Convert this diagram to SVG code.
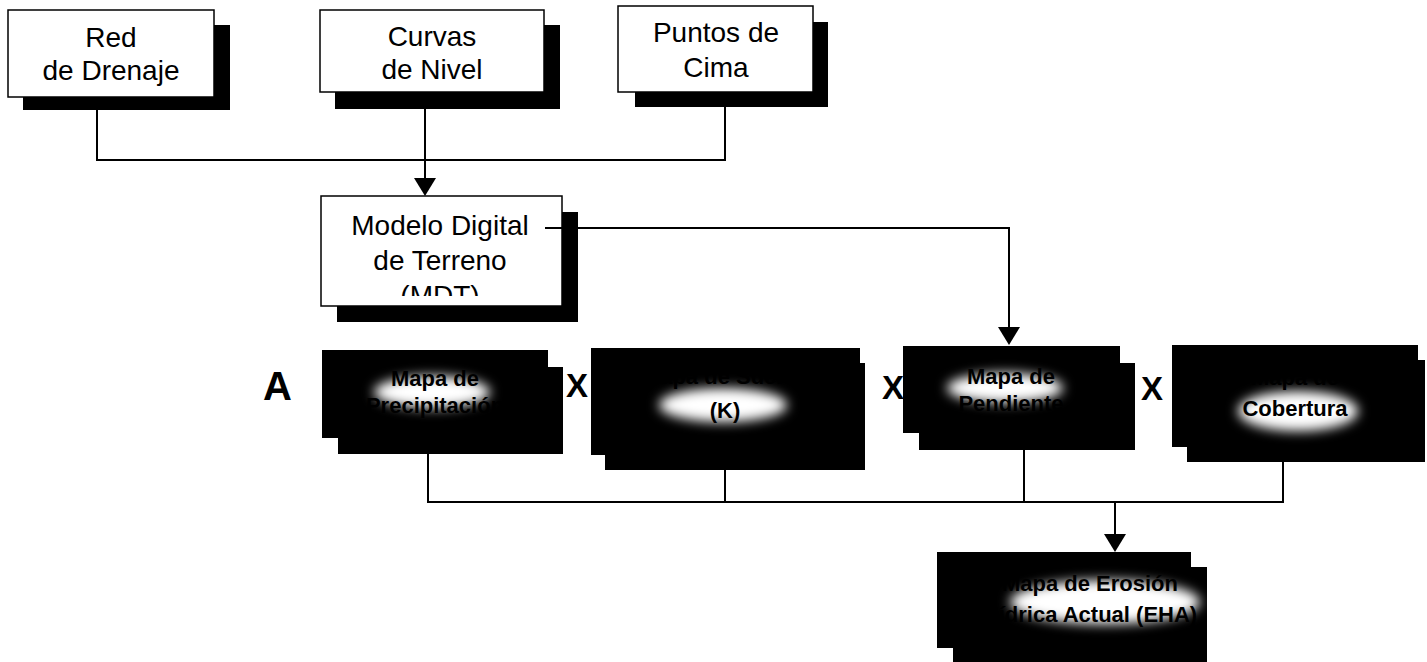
<svg xmlns="http://www.w3.org/2000/svg" width="1427" height="662" viewBox="0 0 1427 662">
<style>
.box{fill:#fff;stroke:#000;stroke-width:1.5}
.sh{fill:#000}
.t{font-family:"Liberation Sans",Arial,sans-serif;font-size:28px;fill:#000;text-anchor:middle}
.d{font-family:"Liberation Sans",Arial,sans-serif;font-size:22px;font-weight:bold;fill:#000;text-anchor:middle}
.op{font-family:"Liberation Sans",Arial,sans-serif;font-weight:bold;fill:#000}
.ln{fill:none;stroke:#000;stroke-width:2}
.glow{fill:#fff;filter:url(#blur)}
</style>
<defs>
<filter id="blur" x="-50%" y="-50%" width="200%" height="200%"><feGaussianBlur stdDeviation="6"/></filter>
<clipPath id="mclip"><rect x="321" y="196" width="241" height="100"/></clipPath>
</defs>

<g id="red-drenaje">
<rect class="sh" x="23" y="25" width="207" height="85"/>
<rect class="box" x="8" y="10" width="206" height="87"/>
<text class="t" x="111" y="47">Red</text>
<text class="t" x="111" y="80">de Drenaje</text>
</g>

<g id="curvas-nivel">
<rect class="sh" x="335" y="25" width="225" height="84"/>
<rect class="box" x="320" y="10" width="224" height="82"/>
<text class="t" x="432" y="46">Curvas</text>
<text class="t" x="432" y="79">de Nivel</text>
</g>

<g id="puntos-cima">
<rect class="sh" x="635" y="22" width="193" height="85"/>
<rect class="box" x="618" y="6" width="195" height="86"/>
<text class="t" x="716" y="42">Puntos de</text>
<text class="t" x="716" y="77">Cima</text>
</g>

<g id="mdt">
<rect class="sh" x="337" y="212" width="241" height="110"/>
<rect class="box" x="321" y="196" width="241" height="110"/>
<g clip-path="url(#mclip)">
<text class="t" x="440" y="235">Modelo Digital</text>
<text class="t" x="440" y="270">de Terreno</text>
<text class="t" x="440" y="305">(MDT)</text>
</g>
</g>

<g id="operadores">
<text class="op" x="263" y="400" font-size="40">A</text>
<text class="op" x="566" y="397" font-size="33">X</text>
<text class="op" x="882" y="399" font-size="33">X</text>
<text class="op" x="1141" y="400" font-size="33">X</text>
</g>

<g id="precipitacion">
<rect class="sh" x="338" y="367" width="225" height="87"/>
<rect class="sh" x="322" y="350" width="226" height="88"/>
<ellipse class="glow" cx="432" cy="392" rx="58" ry="16"/>
<text class="d" x="435" y="386">Mapa de</text>
<text class="d" x="435" y="413">Precipitación</text>
</g>

<g id="suelos">
<rect class="sh" x="605" y="363" width="260" height="107"/>
<rect class="sh" x="591" y="348" width="269" height="107"/>
<ellipse class="glow" cx="723" cy="405" rx="64" ry="17"/>
<text class="d" x="725" y="384">Mapa de Suelos</text>
<text class="d" x="725" y="418">(K)</text>
</g>

<g id="pendiente">
<rect class="sh" x="919" y="363" width="216" height="87"/>
<rect class="sh" x="903" y="346" width="217" height="87"/>
<ellipse class="glow" cx="1005" cy="388" rx="58" ry="15"/>
<text class="d" x="1011" y="384">Mapa de</text>
<text class="d" x="1011" y="411">Pendiente</text>
</g>

<g id="cobertura">
<rect class="sh" x="1187" y="360" width="238" height="102"/>
<rect class="sh" x="1172" y="345" width="246" height="102"/>
<ellipse class="glow" cx="1298" cy="411" rx="60" ry="20"/>
<text class="d" x="1295" y="385">Mapa de</text>
<text class="d" x="1295" y="416">Cobertura</text>
</g>

<g id="erosion">
<rect class="sh" x="953" y="567" width="254" height="95"/>
<rect class="sh" x="937" y="552" width="254" height="96"/>
<ellipse class="glow" cx="1105" cy="602" rx="95" ry="22"/>
<text class="d" x="1090" y="591">Mapa de Erosión</text>
<text class="d" x="1090" y="622">Hídrica Actual (EHA)</text>
</g>

<g id="connectors">
<polyline class="ln" points="97,110 97,160 725,160 725,107"/>
<line class="ln" x1="425" y1="109" x2="425" y2="178"/>
<path d="M414,178 L436,178 L425,196 Z" fill="#000"/>
<polyline class="ln" points="545,228 1009,228 1009,327"/>
<path d="M998,327 L1020,327 L1009,345 Z" fill="#000"/>
<polyline class="ln" points="428,454 428,502 1283,502 1283,462"/>
<line class="ln" x1="725" y1="470" x2="725" y2="502"/>
<line class="ln" x1="1024" y1="450" x2="1024" y2="502"/>
<line class="ln" x1="1115" y1="502" x2="1115" y2="534"/>
<path d="M1104,534 L1126,534 L1115,552 Z" fill="#000"/>
</g>
</svg>
